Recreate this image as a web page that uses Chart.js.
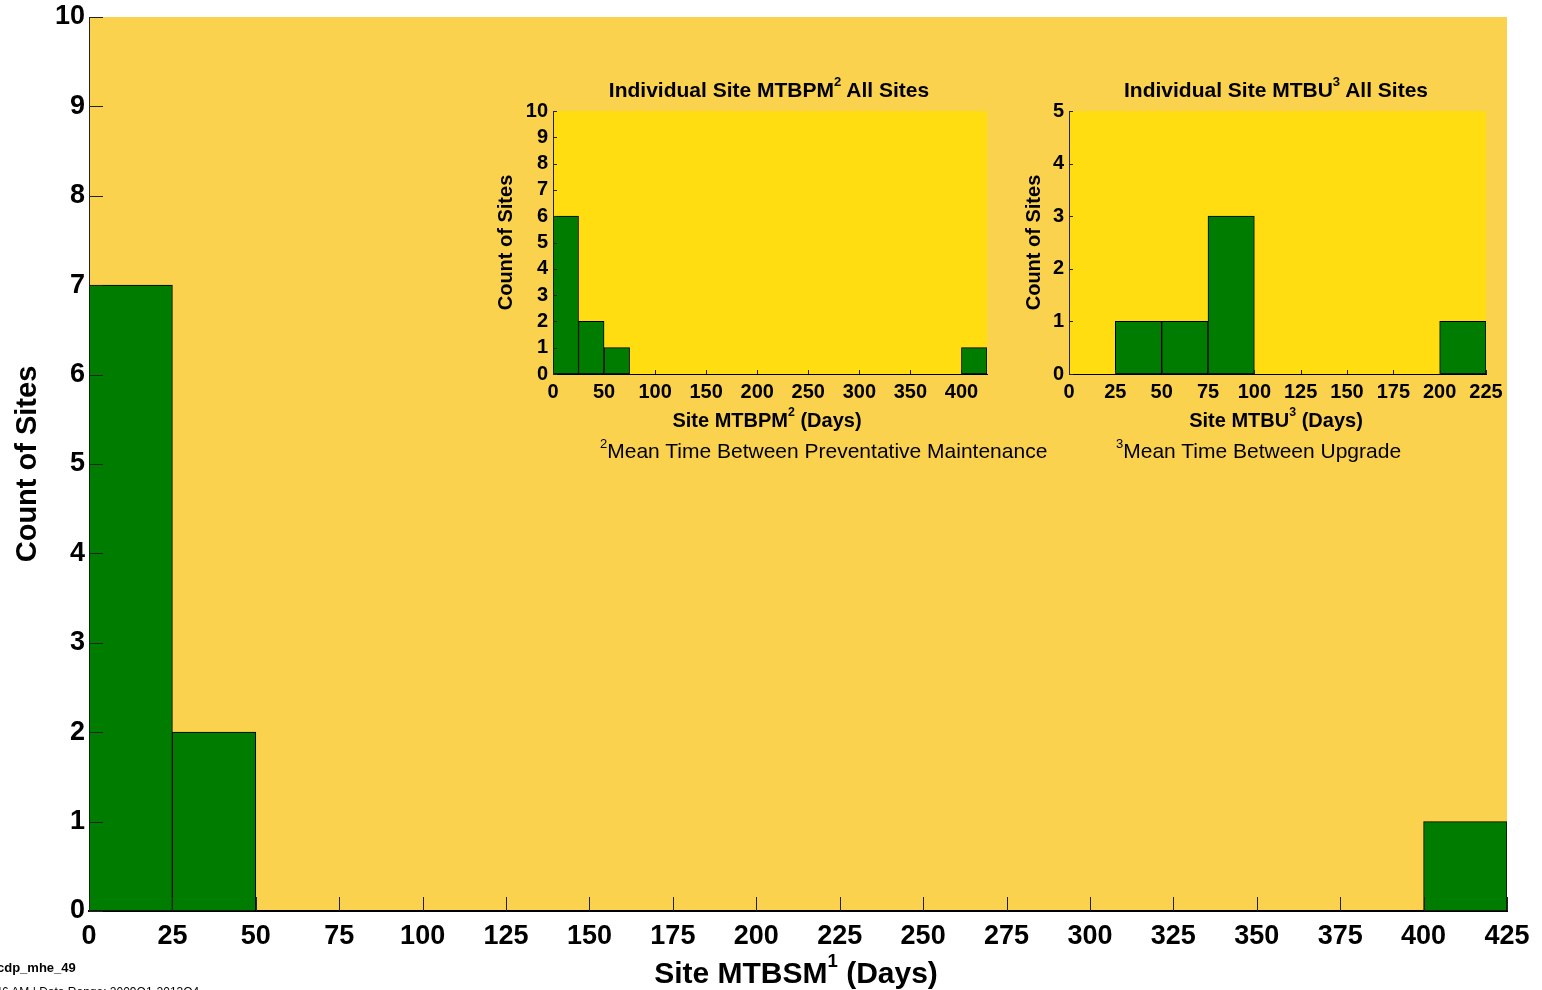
<!DOCTYPE html>
<html>
<head>
<meta charset="utf-8">
<script src="https://cdn.jsdelivr.net/npm/chart.js@4/dist/chart.umd.min.js"></script>
<style>
  html, body { margin: 0; padding: 0; background: #fff; overflow: hidden; }
  body { width: 1542px; height: 990px; position: relative; font-family: "Liberation Sans", Arial, sans-serif; }
  canvas { position: absolute; }
  .lbl { position: absolute; white-space: nowrap; color: #000; line-height: 1; }
  .ctr { transform: translateX(-50%); font-weight: bold; }
  sup { font-size: 0.62em; line-height: 0; vertical-align: 0.85em; }
  .note sup { vertical-align: 0.8em; }
</style>
</head>
<body>
<canvas id="mainChart" style="left:0;top:0;width:1542px;height:990px"></canvas>
<canvas id="pmChart" style="left:490px;top:95px;width:520px;height:337px"></canvas>
<canvas id="upChart" style="left:1010px;top:95px;width:530px;height:337px"></canvas>

<div class="lbl ctr" style="left:769px;top:79px;font-size:21px">Individual Site MTBPM<sup>2</sup> All Sites</div>
<div class="lbl ctr" style="left:1276px;top:79px;font-size:21px">Individual Site MTBU<sup>3</sup> All Sites</div>
<div class="lbl ctr" style="left:767px;top:410px;font-size:20px">Site MTBPM<sup>2</sup> (Days)</div>
<div class="lbl ctr" style="left:1276px;top:410px;font-size:20px">Site MTBU<sup>3</sup> (Days)</div>
<div class="lbl note" style="left:600px;top:440px;font-size:21px"><sup>2</sup>Mean Time Between Preventative Maintenance</div>
<div class="lbl note" style="left:1116px;top:440px;font-size:21px"><sup>3</sup>Mean Time Between Upgrade</div>
<div class="lbl ctr" style="left:796px;top:958px;font-size:30px">Site MTBSM<sup>1</sup> (Days)</div>
<div class="lbl" style="left:-3px;top:961px;font-size:13px;font-weight:bold">cdp_mhe_49</div>
<div class="lbl" style="left:-8px;top:986px;font-size:12px">:46 AM | Data Range: 2009Q1-2013Q4</div>

<script>
// histogram bins are 25 days wide, counts per bin starting at 0
const binWidth = 25;
const mtbsmCounts = [7, 2, 0, 0, 0, 0, 0, 0, 0, 0, 0, 0, 0, 0, 0, 0, 1];   // 0..425
const mtbpmCounts = [6, 2, 1, 0, 0, 0, 0, 0, 0, 0, 0, 0, 0, 0, 0, 0, 1];   // 0..425
const mtbuCounts  = [0, 1, 1, 3, 0, 0, 0, 0, 1];                           // 0..225

const plotBg = {
  id: 'plotBg',
  beforeDraw(chart, args, opts) {
    const a = chart.chartArea;
    chart.ctx.save();
    chart.ctx.fillStyle = opts.color;
    chart.ctx.fillRect(a.left, a.top, a.right - a.left, a.bottom - a.top);
    chart.ctx.restore();
  }
};

// matlab style ticks pointing into the plot
const insideTicks = {
  id: 'insideTicks',
  afterDatasetsDraw(chart, args, opts) {
    const ctx = chart.ctx, a = chart.chartArea, sx = chart.scales.x, sy = chart.scales.y;
    ctx.save();
    ctx.strokeStyle = opts.color;
    ctx.lineWidth = 1;
    ctx.beginPath();
    sx.ticks.forEach(t => {
      const px = Math.round(sx.getPixelForValue(t.value)) + 0.5;
      ctx.moveTo(px, a.bottom);
      ctx.lineTo(px, a.bottom - opts.len);
    });
    sy.ticks.forEach(t => {
      const py = Math.round(sy.getPixelForValue(t.value)) + 0.5;
      ctx.moveTo(a.left, py);
      ctx.lineTo(a.left + opts.len, py);
    });
    ctx.stroke();
    ctx.restore();
  }
};

function histPoints(counts) {
  return counts.map((c, i) => ({ x: i * binWidth + binWidth / 2, y: c }));
}

function makeHist(id, counts, cfg) {
  return new Chart(document.getElementById(id), {
    type: 'bar',
    data: {
      datasets: [{
        data: histPoints(counts),
        backgroundColor: '#007c00',
        borderColor: '#000',
        borderWidth: 1,
        borderSkipped: false,
        barPercentage: 1,
        categoryPercentage: 1
      }]
    },
    options: {
      responsive: false,
      animation: false,
      events: [],
      layout: { padding: cfg.padding },
      plugins: {
        legend: { display: false },
        tooltip: { enabled: false },
        plotBg: { color: cfg.bg },
        insideTicks: { len: cfg.tickLen, color: '#222' }
      },
      scales: {
        x: {
          type: 'linear',
          offset: false,
          min: 0,
          max: cfg.xMax,
          grid: { display: false, drawTicks: false, offset: false },
          border: { display: true, color: '#000', width: cfg.xBorder },
          ticks: {
            stepSize: cfg.xStep,
            includeBounds: false,
            maxRotation: 0,
            autoSkip: false,
            padding: cfg.xTickPad,
            color: '#000',
            font: { family: 'Liberation Sans', weight: 'bold', size: cfg.tickSize }
          },
          afterFit(s) {
            s.height = cfg.xHeight;
            s.paddingLeft = 0;
            s.paddingRight = 0;
          }
        },
        y: {
          min: 0,
          max: cfg.yMax,
          grid: { display: false, drawTicks: false },
          border: { display: true, color: '#222', width: 1 },
          ticks: {
            stepSize: 1,
            autoSkip: false,
            padding: cfg.yTickPad,
            color: '#000',
            font: { family: 'Liberation Sans', weight: 'bold', size: cfg.tickSize }
          },
          title: {
            display: true,
            text: 'Count of Sites',
            color: '#000',
            padding: { top: cfg.yTitlePad, bottom: 0 },
            font: { family: 'Liberation Sans', weight: 'bold', size: cfg.titleSize }
          },
          afterFit(s) {
            s.width = cfg.yWidth;
            s.paddingTop = 0;
            s.paddingBottom = 0;
          }
        }
      }
    },
    plugins: [plotBg, insideTicks]
  });
}

// main histogram
makeHist('mainChart', mtbsmCounts, {
  padding: { left: 0, top: 17, right: 35, bottom: 0 },
  bg: '#fad24e', tickLen: 14, xMax: 425, xStep: 25, yMax: 10,
  xBorder: 2, xTickPad: 9, yTickPad: 4, tickSize: 27, titleSize: 29,
  xHeight: 79, yWidth: 89, yTitlePad: 11
});

// inset: preventative maintenance
makeHist('pmChart', mtbpmCounts, {
  padding: { left: 0, top: 16, right: 23, bottom: 0 },
  bg: '#ffdd11', tickLen: 4, xMax: 425, xStep: 50, yMax: 10,
  xBorder: 1, xTickPad: 6, yTickPad: 5, tickSize: 20, titleSize: 20,
  xHeight: 58, yWidth: 63, yTitlePad: 4
});

// inset: upgrade
makeHist('upChart', mtbuCounts, {
  padding: { left: 0, top: 16, right: 54, bottom: 0 },
  bg: '#ffdd11', tickLen: 4, xMax: 225, xStep: 25, yMax: 5,
  xBorder: 1, xTickPad: 6, yTickPad: 5, tickSize: 20, titleSize: 20,
  xHeight: 58, yWidth: 59, yTitlePad: 12
});
</script>
</body>
</html>
